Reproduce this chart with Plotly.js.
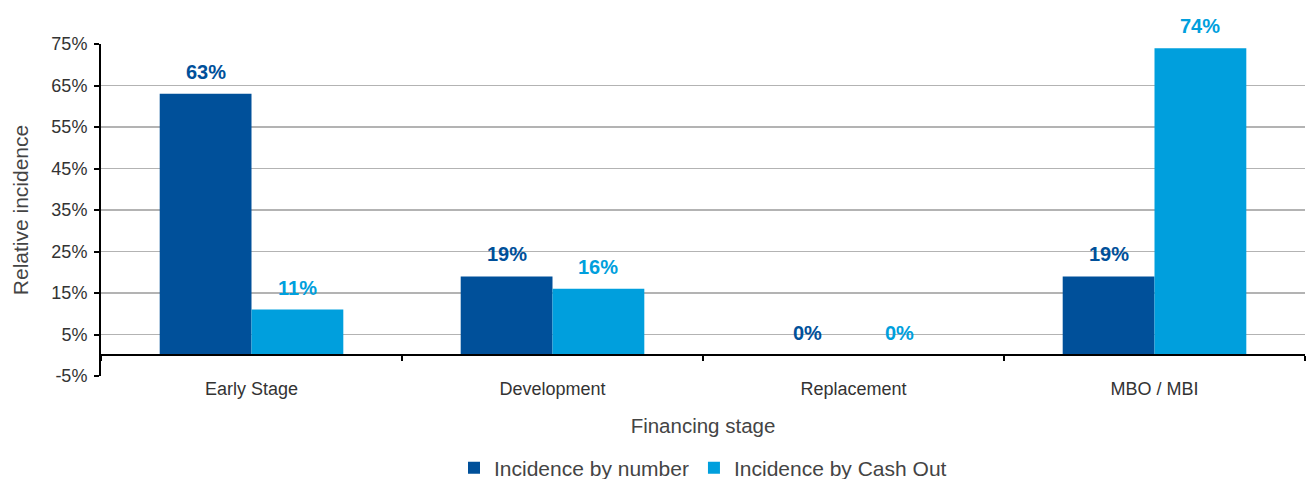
<!DOCTYPE html>
<html>
<head>
<meta charset="utf-8">
<script src="https://cdn.plot.ly/plotly-3.0.1.min.js"></script>
<style>html,body{margin:0;padding:0;background:#fff;}#chart{width:1306px;height:479px;}</style>
</head>
<body>
<div id="chart"></div>
<script>
const categories = ["Early Stage", "Development", "Replacement", "MBO / MBI"];
const incidenceByNumber = [63, 19, 0, 19];
const incidenceByCashOut = [11, 16, 0, 74];
const seriesNames = ["Incidence by number", "Incidence by Cash Out"];
const yTickValues = [-5, 5, 15, 25, 35, 45, 55, 65, 75];

const darkBlue = "#00509A";
const lightBlue = "#009FDD";
const fontFam = "Liberation Sans, Arial, sans-serif";
const barGap = 0.39;

const traces = [
  {
    type: "bar", name: seriesNames[0], x: categories, y: incidenceByNumber,
    marker: {color: darkBlue}, hoverinfo: "skip"
  },
  {
    type: "bar", name: seriesNames[1], x: categories, y: incidenceByCashOut,
    marker: {color: lightBlue}, hoverinfo: "skip"
  },
  {
    type: "scatter", mode: "markers", x: categories, y: categories.map(() => null),
    xaxis: "x2", yaxis: "y", showlegend: false, hoverinfo: "skip"
  }
];

// value labels above each bar (positioned through the axes)
const half = (1 - barGap) / 4;
const annotations = [];
[[incidenceByNumber, darkBlue, -half], [incidenceByCashOut, lightBlue, half]].forEach(([vals, col, off]) => {
  vals.forEach((v, i) => {
    annotations.push({
      x: i + off, y: v, xref: "x", yref: "y", text: v + "%", showarrow: false,
      yanchor: "middle", xanchor: "center", yshift: 22,
      font: {family: fontFam, size: 20, color: col, weight: "bold"}
    });
  });
});

const layout = {
  width: 1306, height: 479,
  margin: {l: 101, r: 1, t: 44, b: 103, autoexpand: false},
  paper_bgcolor: "#fff", plot_bgcolor: "#fff",
  font: {family: fontFam, color: "#333", size: 17},
  barmode: "group", bargap: barGap, bargroupgap: 0,
  showlegend: true,
  legend: {orientation: "h", x: 0.5, xanchor: "center", y: -(468 - 376) / 332, yanchor: "middle",
           font: {size: 21, color: "#444"}, traceorder: "normal", itemwidth: 30},
  annotations: annotations,
  xaxis: {
    type: "category", categoryarray: categories, range: [-0.5, 3.5],
    showline: false, ticks: "", showgrid: false, zeroline: false,
    tickfont: {size: 18, color: "#333"},
    title: {text: "Financing stage", font: {size: 20.5, color: "#444"}, standoff: 20}
  },
  xaxis2: {
    type: "category", categoryarray: categories, range: [-0.5, 3.5],
    overlaying: "x", anchor: "free", position: 5 / 80,
    showline: true, linecolor: "#000", linewidth: 2,
    ticks: "outside", tickson: "boundaries", ticklen: 5, tickwidth: 2, tickcolor: "#000",
    showticklabels: false, showgrid: false, zeroline: false
  },
  yaxis: {
    range: [-5, 75], tickvals: yTickValues, ticktext: yTickValues.map(v => v + "%"),
    showline: true, linecolor: "#000", linewidth: 2,
    ticks: "outside", ticklen: 5, tickwidth: 2, tickcolor: "#000",
    showgrid: true, gridcolor: "#b3b3b3", gridwidth: 1.5,
    zeroline: false, ticklabelstandoff: 3,
    tickfont: {size: 18, color: "#333"},
    title: {text: "Relative incidence", font: {size: 21, color: "#444"}, standoff: 17}
  }
};

Plotly.newPlot("chart", traces, layout, {displayModeBar: false, staticPlot: true});
</script>
</body>
</html>
